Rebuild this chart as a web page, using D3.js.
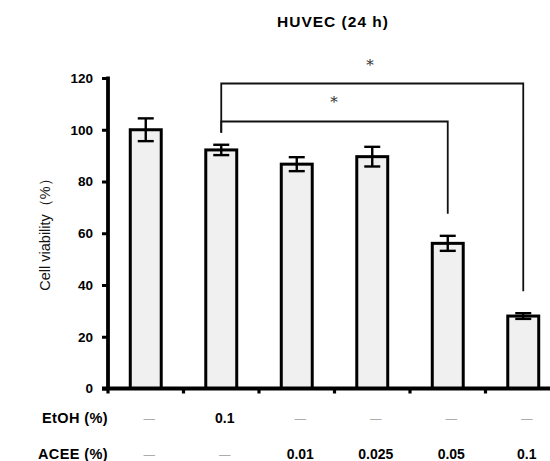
<!DOCTYPE html>
<html>
<head>
<meta charset="utf-8">
<script src="https://cdn.jsdelivr.net/npm/d3@7"></script>
<style>
  body { margin: 0; background: #fff; }
  text { font-family: Arial, "Liberation Sans", sans-serif; }
</style>
</head>
<body>
<svg width="550" height="461"></svg>
<script>
// data
let groups = ["ctrl", "etoh", "a001", "a0025", "a005", "a01"]
let viability = [100, 92.2, 86.7, 89.6, 56.1, 28.0]
let errors = [4.4, 2.0, 2.7, 3.8, 2.9, 1.1]
let etohRow = ["—", "0.1", "—", "—", "—", "—"]
let aceeRow = ["—", "—", "0.01", "0.025", "0.05", "0.1"]
let yTicks = [0, 20, 40, 60, 80, 100, 120]
// significance brackets: [from group, to group, level]
let brackets = [["etoh", "a005", 0], ["etoh", "a01", 1]]

var svg = d3.select("svg")

var x = d3.scaleBand()
    .domain(groups)
    .range([108, 561])
    .paddingInner(0.59)
    .paddingOuter(0.295)

var y = d3.scaleLinear()
    .domain([0, 120])
    .range([388.5, 78])

let cx = g => x(g) + x.bandwidth() / 2

// title
svg.append("text")
    .attr("x", 333).attr("y", 27)
    .attr("text-anchor", "middle")
    .attr("font-size", 15.5).attr("font-weight", "bold")
    .attr("fill", "#000")
    .style("letter-spacing", "1px")
    .text("HUVEC (24 h)")

// y axis
var yAxis = svg.append("g")
    .attr("transform", "translate(108,0)")
    .call(d3.axisLeft(y).tickValues(yTicks).tickSize(6).tickPadding(9))
yAxis.select(".domain").remove()
yAxis.selectAll(".tick line").style("stroke-width", "3px")
yAxis.selectAll(".tick text")
    .attr("font-size", 13.5).attr("font-weight", "bold")
    .attr("font-family", "Arial, 'Liberation Sans', sans-serif")
    .attr("fill", "#000")
svg.append("line")
    .attr("x1", 108).attr("x2", 108)
    .attr("y1", y(120) - 1.5).attr("y2", y(0) + 1.5)
    .style("stroke", "#000").style("stroke-width", "3.8px")

svg.append("text")
    .attr("transform", "translate(50,231) rotate(-90)")
    .attr("text-anchor", "middle")
    .attr("font-size", 14.5)
    .attr("fill", "#111")
    .text("Cell viability（%）")

// bars
svg.selectAll(".bar")
    .data(groups)
    .enter()
    .append("rect")
    .attr("class", "bar")
    .attr("x", d => x(d))
    .attr("width", x.bandwidth())
    .attr("y", (d, i) => y(viability[i]))
    .attr("height", (d, i) => y(0) - y(viability[i]))
    .attr("fill", "#f0f0f0")
    .attr("stroke", "#000")
    .attr("stroke-width", 3)

// error bars
var err = svg.selectAll(".err")
    .data(groups)
    .enter()
    .append("g")
    .attr("class", "err")
    .attr("stroke", "#000")
    .attr("stroke-width", 2.4)
err.append("line")
    .attr("x1", d => cx(d)).attr("x2", d => cx(d))
    .attr("y1", (d, i) => y(viability[i] + errors[i]))
    .attr("y2", (d, i) => y(viability[i] - errors[i]))
err.append("line")
    .attr("x1", d => cx(d) - 8).attr("x2", d => cx(d) + 8)
    .attr("y1", (d, i) => y(viability[i] + errors[i]))
    .attr("y2", (d, i) => y(viability[i] + errors[i]))
err.append("line")
    .attr("x1", d => cx(d) - 8).attr("x2", d => cx(d) + 8)
    .attr("y1", (d, i) => y(viability[i] - errors[i]))
    .attr("y2", (d, i) => y(viability[i] - errors[i]))

// x axis line with small ticks between groups
svg.append("line")
    .attr("x1", 102).attr("x2", 550)
    .attr("y1", y(0)).attr("y2", y(0))
    .style("stroke", "#000").style("stroke-width", "3.8px")
svg.selectAll(".xtick")
    .data(groups)
    .enter()
    .append("line")
    .attr("class", "xtick")
    .attr("x1", (d, i) => i === 0 ? 108 : x(d) - x.step() * 0.295)
    .attr("x2", (d, i) => i === 0 ? 108 : x(d) - x.step() * 0.295)
    .attr("y1", y(0)).attr("y2", y(0) + 5)
    .style("stroke", "#000").style("stroke-width", "3.2px")

// significance brackets
let levelY = [121.5, 83.5]
let starY = [107, 69.5]
let starX = [334, 370]
brackets.forEach(b => {
    let i1 = groups.indexOf(b[0]), i2 = groups.indexOf(b[1])
    let ly = levelY[b[2]]
    let leftEnd = y(viability[i1] + errors[i1]) - 12
    let rightEnd = y(viability[i2] + errors[i2]) - 22
    svg.append("path")
        .attr("d", "M" + cx(b[0]) + "," + leftEnd + "V" + ly + "H" + cx(b[1]) + "V" + rightEnd)
        .attr("fill", "none")
        .attr("stroke", "#111")
        .attr("stroke-width", 1.8)
    svg.append("text")
        .attr("x", starX[b[2]]).attr("y", starY[b[2]])
        .attr("text-anchor", "middle")
        .attr("font-size", 15)
        .attr("fill", "#333")
        .style("font-family", "'DejaVu Serif', serif")
        .text("*")
})

// treatment rows
function row(label, vals, yy) {
    svg.append("text")
        .attr("x", 108).attr("y", yy)
        .attr("text-anchor", "end")
        .attr("font-size", 14.5).attr("font-weight", "bold")
        .attr("fill", "#000")
        .style("letter-spacing", "0.4px")
        .text(label)
    svg.selectAll(null)
        .data(vals)
        .enter()
        .append("text")
        .attr("x", (d, i) => cx(groups[i]) + 3.5)
        .attr("y", (d, i) => d === "—" ? yy - 1 : yy)
        .attr("text-anchor", "middle")
        .attr("font-size", d => d === "—" ? 11.5 : 14)
        .attr("font-weight", d => d === "—" ? "normal" : "bold")
        .attr("fill", d => d === "—" ? "#999" : "#000")
        .text(d => d)
}
row("EtOH (%)", etohRow, 422.5)
row("ACEE (%)", aceeRow, 458.5)
</script>
</body>
</html>
